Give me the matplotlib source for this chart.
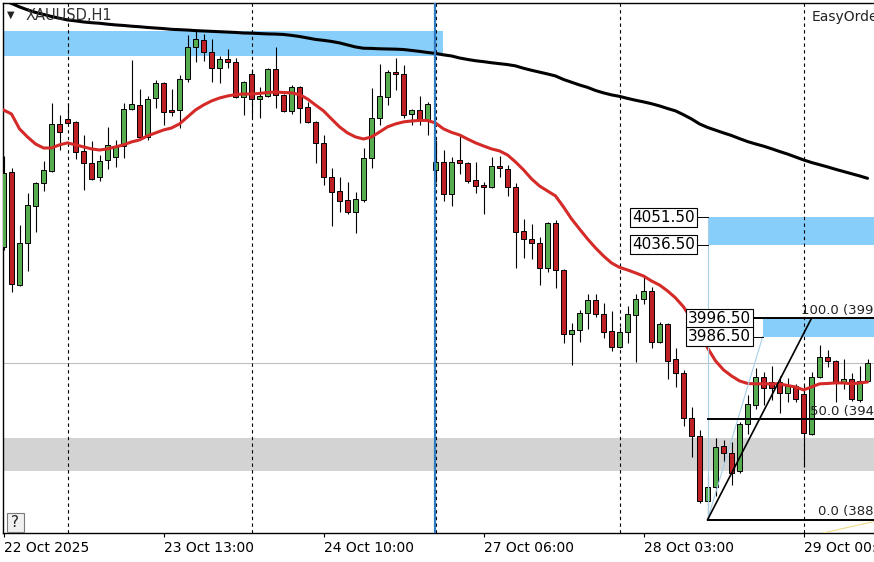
import numpy as np
import matplotlib.pyplot as plt
from matplotlib.patches import Rectangle

# XAUUSD H1 candles (bar index 0..108)
opens = [4035.3, 4076.2, 4014.6, 4037.5, 4057.7, 4070.2, 4076.7, 4102.3, 4105.0, 4103.4,
         4087.6, 4081.1, 4073.4, 4082.7, 4084.3, 4090.3, 4110.5, 4112.6, 4095.2, 4116.4,
         4124.6, 4109.9, 4109.9, 4126.8, 4144.2, 4148.0, 4141.5, 4132.8, 4137.7, 4136.0,
         4117.0, 4129.5, 4115.9, 4117.5, 4132.2, 4118.1, 4109.4, 4122.4, 4111.6, 4103.4,
         4092.0, 4073.4, 4065.8, 4060.9, 4054.4, 4060.9, 4083.8, 4105.6, 4117.0, 4130.6,
         4129.5, 4107.7, 4109.9, 4104.5, 4077.3, 4081.6, 4064.2, 4082.7, 4081.1, 4071.8,
         4069.1, 4068.0, 4079.4, 4077.8, 4068.0, 4044.0, 4039.7, 4037.5, 4023.9, 4048.4,
         4022.8, 3988.0, 3990.2, 3999.4, 4006.5, 3998.9, 3989.6, 3980.9, 3989.1, 3998.3,
         4007.0, 4011.4, 3983.6, 3993.4, 3974.4, 3966.7, 3942.2, 3932.4, 3897.1, 3904.7,
         3927.0, 3923.2, 3913.4, 3939.0, 3949.3, 3964.6, 3961.8, 3961.8, 3955.9, 3959.7,
         3955.3, 3933.5, 3964.6, 3975.5, 3973.3, 3961.3, 3963.5, 3952.0, 3962.4]
highs = [4084.9, 4078.3, 4047.3, 4064.7, 4070.7, 4082.2, 4113.7, 4107.2, 4113.7, 4103.9,
         4096.3, 4093.0, 4085.4, 4100.7, 4093.6, 4113.7, 4137.1, 4121.3, 4117.5, 4126.2,
         4125.2, 4121.3, 4129.0, 4150.7, 4153.5, 4151.3, 4148.6, 4139.3, 4143.1, 4138.2,
         4125.7, 4132.2, 4122.4, 4132.8, 4144.2, 4118.6, 4123.5, 4123.0, 4114.3, 4103.9,
         4096.3, 4078.3, 4073.4, 4070.7, 4065.3, 4089.2, 4121.9, 4135.0, 4131.7, 4138.2,
         4134.4, 4110.5, 4117.5, 4114.3, 4093.6, 4088.1, 4084.3, 4096.9, 4081.6, 4081.6,
         4070.7, 4084.3, 4084.9, 4080.0, 4070.2, 4050.6, 4047.9, 4040.8, 4048.9, 4050.0,
         4023.4, 3994.0, 4001.0, 4009.8, 4009.8, 4004.9, 4000.5, 3991.8, 4003.2, 4009.8,
         4020.1, 4013.6, 3994.5, 3994.0, 3980.4, 3968.4, 3948.2, 3935.7, 3911.2, 3931.4,
         3930.3, 3929.2, 3940.1, 3954.8, 3969.5, 3967.3, 3970.6, 3965.1, 3964.0, 3960.8,
         3960.2, 3967.3, 3982.0, 3979.3, 3973.8, 3974.4, 3966.7, 3970.6, 3974.4]
lows = [4033.7, 4010.8, 4014.1, 4022.3, 4043.5, 4065.8, 4076.2, 4088.1, 4102.3, 4083.2,
        4066.4, 4071.8, 4071.3, 4077.8, 4078.9, 4083.8, 4109.9, 4093.6, 4093.6, 4111.0,
        4101.7, 4106.6, 4100.1, 4125.2, 4136.0, 4136.6, 4125.2, 4124.6, 4132.8, 4116.4,
        4107.2, 4106.1, 4105.6, 4117.0, 4111.0, 4108.8, 4107.7, 4102.8, 4102.8, 4081.1,
        4069.1, 4046.8, 4054.4, 4053.3, 4043.0, 4059.8, 4078.3, 4101.7, 4112.6, 4120.8,
        4105.6, 4101.7, 4101.7, 4096.3, 4070.7, 4060.4, 4057.7, 4075.1, 4070.2, 4064.7,
        4053.3, 4067.5, 4073.4, 4063.1, 4023.9, 4029.3, 4028.8, 4014.6, 4021.7, 4013.0,
        3983.1, 3971.1, 3983.6, 3990.7, 3997.2, 3985.8, 3978.7, 3980.4, 3983.1, 3972.7,
        4004.3, 3980.4, 3983.1, 3963.5, 3959.1, 3937.9, 3921.0, 3896.0, 3886.8, 3899.8,
        3918.3, 3905.8, 3912.3, 3933.5, 3947.1, 3949.3, 3952.0, 3945.0, 3951.0, 3951.0,
        3915.6, 3933.0, 3964.0, 3970.0, 3951.0, 3958.0, 3951.5, 3951.0, 3962.4]
closes = [4075.6, 4015.2, 4037.5, 4058.2, 4070.2, 4077.3, 4102.3, 4097.9, 4102.8, 4087.1,
          4081.1, 4072.4, 4082.2, 4090.9, 4090.3, 4110.5, 4113.2, 4095.2, 4115.9, 4124.6,
          4108.8, 4108.8, 4126.8, 4144.2, 4148.6, 4141.5, 4132.8, 4137.7, 4136.0, 4117.0,
          4125.2, 4115.9, 4117.5, 4132.2, 4118.1, 4109.4, 4122.4, 4111.0, 4103.4, 4092.0,
          4073.4, 4065.3, 4060.4, 4054.4, 4061.5, 4083.8, 4105.6, 4117.5, 4130.6, 4129.5,
          4107.2, 4109.9, 4104.5, 4113.2, 4081.6, 4064.2, 4081.6, 4081.1, 4071.3, 4068.5,
          4068.0, 4079.4, 4078.3, 4068.0, 4043.5, 4039.7, 4037.5, 4023.9, 4048.4, 4022.8,
          3988.0, 3990.2, 3999.4, 4006.5, 3998.9, 3989.1, 3980.9, 3989.1, 3998.9, 4007.0,
          4011.4, 3983.6, 3993.4, 3973.3, 3966.7, 3942.2, 3932.4, 3897.1, 3904.7, 3926.5,
          3923.2, 3912.3, 3939.0, 3949.9, 3964.6, 3958.6, 3958.6, 3955.9, 3959.7, 3952.6,
          3934.1, 3964.6, 3975.5, 3973.3, 3961.3, 3963.5, 3952.6, 3962.4, 3972.2]

# moving averages (red = fast, black = slow), one value per bar
ma_fast = [4109.9, 4107.7, 4099.6, 4095.2, 4091.4, 4089.2, 4089.2, 4090.9, 4092.0, 4090.9,
           4089.8, 4088.7, 4088.1, 4088.7, 4089.8, 4090.9, 4092.5, 4093.6, 4095.8, 4097.4,
           4099.0, 4100.1, 4102.3, 4106.1, 4109.9, 4112.6, 4114.8, 4116.4, 4117.5, 4118.3,
           4118.6, 4118.6, 4118.9, 4119.4, 4119.7, 4119.4, 4119.2, 4118.3, 4115.9, 4112.6,
           4109.4, 4105.0, 4100.7, 4097.4, 4095.2, 4094.1, 4095.2, 4097.9, 4100.7, 4102.3,
           4103.4, 4103.9, 4104.2, 4104.2, 4102.8, 4099.6, 4097.7, 4096.3, 4094.1, 4092.0,
           4090.3, 4088.7, 4087.6, 4085.4, 4081.6, 4077.3, 4072.4, 4068.5, 4065.8, 4063.1,
           4057.1, 4050.6, 4045.1, 4039.7, 4034.8, 4030.4, 4026.6, 4024.2, 4022.8, 4021.2,
           4019.5, 4016.8, 4014.6, 4011.4, 4007.6, 4002.7, 3996.1, 3989.1, 3980.4, 3973.3,
           3968.4, 3965.1, 3962.4, 3961.0, 3960.8, 3960.8, 3960.8, 3960.8, 3959.9, 3959.1,
           3957.5, 3959.1, 3960.8, 3961.0, 3961.3, 3961.3, 3960.8, 3961.3, 3961.8]
ma_slow = [4169.5, 4167.9, 4166.0, 4164.4, 4163.0, 4161.9, 4160.8, 4159.8, 4158.9, 4158.4,
           4157.8, 4157.4, 4157.1, 4156.6, 4156.2, 4155.9, 4155.5, 4155.2, 4154.8, 4154.5,
           4154.2, 4153.8, 4153.6, 4153.4, 4153.1, 4152.9, 4152.7, 4152.5, 4152.3, 4152.1,
           4151.8, 4151.7, 4151.5, 4151.3, 4151.2, 4151.0, 4150.5, 4149.9, 4149.1, 4148.3,
           4147.8, 4147.2, 4146.4, 4145.3, 4144.2, 4143.5, 4143.4, 4143.2, 4143.1, 4143.0,
           4142.8, 4142.3, 4141.8, 4141.2, 4140.7, 4139.9, 4139.3, 4138.2, 4137.4, 4136.7,
           4136.2, 4135.6, 4135.1, 4134.6, 4133.9, 4132.6, 4131.5, 4130.5, 4129.5, 4128.4,
           4126.5, 4125.0, 4123.5, 4122.2, 4120.5, 4119.2, 4118.1, 4117.3, 4116.2, 4115.2,
           4114.3, 4113.3, 4112.1, 4110.7, 4109.4, 4107.3, 4105.0, 4102.3, 4100.4, 4098.9,
           4097.4, 4096.0, 4094.3, 4092.7, 4091.4, 4090.2, 4088.8, 4087.3, 4085.9, 4084.3,
           4082.7, 4081.3, 4080.1, 4078.9, 4077.6, 4076.4, 4075.2, 4074.0, 4072.7]

tick_bars = [0, 20, 40, 60, 80, 100]
tick_labels = ['22 Oct 2025', '23 Oct 13:00', '24 Oct 10:00', '27 Oct 06:00', '28 Oct 03:00', '29 Oct 00:00']
day_starts = [8, 31, 54, 77, 100]
marker_bar = 53.9

# drawn objects
zone_top = (4139.5, 4152.9, 54.9)      # low, high, right end bar
zone_a = (4036.5, 4051.5, 88)          # low, high, left start bar
zone_b = (3986.5, 3996.5, 94.9)
zone_grey = (3913.6, 3931.4)
bid = 3972.2
fib_lo, fib_hi = 3886.8, 3996.5
fib_start, fib_end = 88, 101
fib_levels = [0.0, 50.0, 100.0]

bars = np.arange(len(opens))
o = np.array(opens); c = np.array(closes)
up = c >= o
green = '#55ad4f'
red = '#bf2026'

fig = plt.figure(figsize=(8.74, 5.62), dpi=100)
ax = fig.add_axes([3/874, 29/562, 871/874, 530.5/562])
x0, x1 = -0.0625, 108.81
ax.set_xlim(x0, x1)
ax.set_ylim(3879.6, 4168.4)

# zones
ax.add_patch(Rectangle((x0, zone_top[0]), zone_top[2]-x0, zone_top[1]-zone_top[0], color='#87cefa', lw=0, zorder=1))
ax.add_patch(Rectangle((zone_a[2], zone_a[0]), x1-zone_a[2]+5, zone_a[1]-zone_a[0], color='#87cefa', lw=0, zorder=1))
ax.add_patch(Rectangle((zone_b[2], zone_b[0]), x1-zone_b[2]+5, zone_b[1]-zone_b[0], color='#87cefa', lw=0, zorder=1))
ax.axhspan(zone_grey[0], zone_grey[1], color='#d3d3d3', lw=0, zorder=1)
ax.axhline(bid, color='#c0c0c0', lw=0.8, zorder=1.5)

for d in day_starts:
    ax.axvline(d, color='black', lw=0.8, ls=(0, (3, 3)), zorder=1.6)

# candles
ax.vlines(bars, lows, highs, color='black', lw=0.8, zorder=2)
body = np.where(np.abs(c-o) < 0.4, 0.4, c-o)
ax.bar(bars, body, bottom=o, width=0.68, color=np.where(up, green, red),
       edgecolor='black', linewidth=0.7, zorder=3)

ax.plot(bars, ma_fast, color='#d42a28', lw=2.2, zorder=4, solid_capstyle='round')
ax.plot(bars, ma_slow, color='black', lw=2.2, zorder=4, solid_capstyle='round')

ax.axvline(marker_bar, color='#2f7bc4', lw=1.6, zorder=5)

# fibo / drawing lines
ax.plot([fib_start, fib_start], [fib_lo, zone_a[1]], color='#a9cfe8', lw=0.8, zorder=5)
ax.plot([fib_start, zone_b[2]], [fib_lo, zone_b[0]], color='#a9cfe8', lw=0.8, zorder=5)
ax.plot([fib_start, fib_end], [fib_lo, fib_hi], color='black', lw=1.2, zorder=5)
ax.plot([102.4, 110], [3879.6, 3887.0], color='#f0dc8c', lw=0.8, zorder=5)
for lv in fib_levels:
    yv = fib_lo + (fib_hi - fib_lo) * lv / 100
    ax.plot([fib_start, x1 + 5], [yv, yv], color='black', lw=1.4, zorder=5, clip_on=False)
    ax.text(113.1, yv + 0.8, f'{lv:.1f} ({yv:.2f})', ha='right', va='bottom', fontsize=9.5,
            color='#222222', zorder=6, clip_on=False)

# price labels of zones
box = dict(boxstyle='square,pad=0.12', fc='white', ec='black', lw=0.8)
for val, cx, edge, start in [(zone_a[1], 82.5, 86.7, zone_a[2]), (zone_a[0], 82.5, 86.7, zone_a[2]),
                              (zone_b[1], 89.5, 93.7, zone_b[2]), (zone_b[0], 89.5, 93.7, zone_b[2])]:
    ax.plot([edge, start], [val, val], color='black', lw=0.7, zorder=6)
    ax.text(cx, val, f'{val:.2f}', ha='center', va='center', fontsize=11, bbox=box, zorder=7)

# axes styling
for s in ['top', 'left', 'bottom']:
    ax.spines[s].set_color('black')
    ax.spines[s].set_linewidth(1)
ax.spines['right'].set_visible(False)
ax.set_yticks([])
ax.set_xticks(tick_bars)
ax.set_xticklabels(tick_labels, ha='left', fontsize=10)
ax.tick_params(axis='x', length=3, width=0.8, pad=3, color='black')

# header texts
fig.text(7/874, 1 - 15/562, '\u25bc', fontsize=7, va='center', ha='left', color='#222222')
fig.text(26/874, 1 - 15/562, 'XAUUSD,H1', fontsize=10.5, va='center', ha='left', color='#333333')
fig.text(812/874, 1 - 17/562, 'EasyOrder', fontsize=10, va='center', ha='left', color='#222222')

# help button
fig.patches.append(Rectangle((6.5/874, 30/562), 17.5/874, 19.5/562, transform=fig.transFigure,
                             fc='#f0f0f0', ec='#7a7a7a', lw=0.8, zorder=8))
fig.text(15.2/874, 39.5/562, '?', fontsize=11, ha='center', va='center', color='#222222', zorder=9)

fig.savefig('out.png', dpi=100)
